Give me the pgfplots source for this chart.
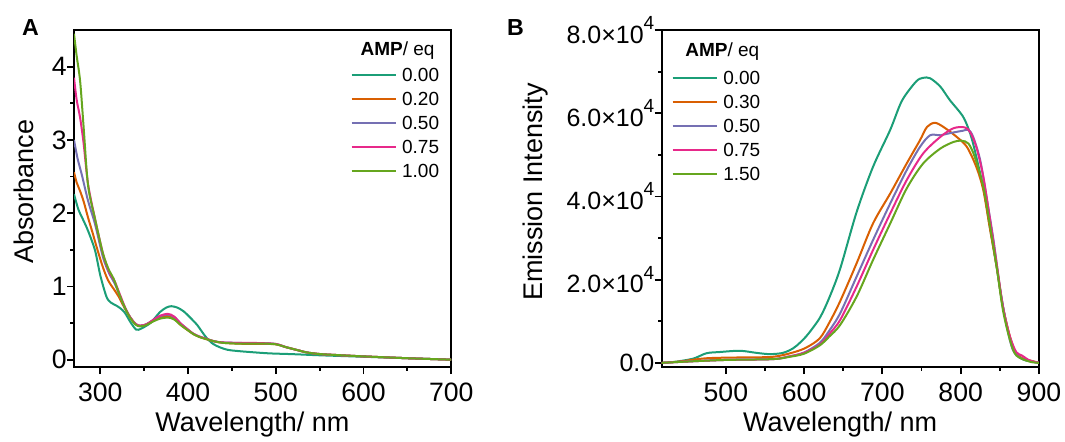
\documentclass[border=0pt]{standalone}
\usepackage{fontspec}
\setmainfont{Liberation Sans}
\usepackage{pgfplots}
\pgfplotsset{compat=1.18}

% Dark2-like series colours
\definecolor{cA}{HTML}{1B9E77}
\definecolor{cB}{HTML}{D95F02}
\definecolor{cC}{HTML}{7570B3}
\definecolor{cD}{HTML}{E7298A}
\definecolor{cE}{HTML}{66A61E}

\pgfplotsset{
  panel/.style={
    scale only axis, width=188.6pt, height=168.5pt, anchor=south west,
    axis line style={line width=1pt},
    tick align=outside, tick pos=left,
    major tick length=3.5pt, minor tick length=1.8pt,
    every tick/.style={black, line width=0.9pt},
    minor x tick num=1, minor y tick num=1,
    /pgf/number format/assume math mode=true,
    tick label style={font=\fontsize{13.3}{14}\selectfont},
    yticklabel style={inner xsep=0pt},
    xticklabel style={yshift=-1.1pt},
    label style={font=\fontsize{13.5}{15}\selectfont},
    xlabel style={at={(axis description cs:0.473,0)}, anchor=base, yshift=-32.3pt},
    no markers,
    every axis plot/.append style={line width=1pt, smooth},
    legend cell align=left,
    legend style={draw=none, fill=none, inner sep=0pt, row sep=0pt, column sep=2.8pt,
      font=\fontsize{9.5}{11}\selectfont,
      nodes={inner sep=0pt, text height=9pt, text depth=3pt}},
    legend image code/.code={\draw[#1] (0pt,0pt) -- (22pt,0pt);},
  }
}

\begin{document}
\begin{tikzpicture}
\path[use as bounding box] (0,0) rectangle (532.5pt,220.5pt);

\node[anchor=base west, font=\fontsize{11.6}{12}\selectfont\bfseries] at (7.5pt,203pt) {A};
\node[anchor=base west, font=\fontsize{11.6}{12}\selectfont\bfseries] at (250pt,203pt) {B};

% ---------------- A: absorbance ----------------
\begin{axis}[panel, at={(37pt,37pt)},
    xmin=270, xmax=700, ymin=-0.1, ymax=4.5,
    xtick={300,400,500,600,700}, ytick={0,1,2,3,4},
    xlabel={Wavelength/ nm}, ylabel={Absorbance},
    ylabel style={at={(axis description cs:-0.108,0.52)}, anchor=base},
    legend style={at={(axis description cs:0.732,0.902)}, anchor=north west},
]
\addplot[cA] coordinates {
(270,2.26)(275,2.05)(280,1.92)(286,1.76)(294,1.49)(300,1.15)(307,0.86)(312,0.78)
(318,0.74)(323,0.70)(328,0.64)(335,0.50)(341,0.41)(346,0.42)(352,0.46)(357,0.50)
(363,0.58)(368,0.65)(375,0.71)(381,0.73)(388,0.71)(395,0.66)(402,0.58)(410,0.48)
(416,0.38)(421,0.30)(428,0.22)(436,0.17)(445,0.135)(455,0.12)(470,0.105)(493,0.086)
(520,0.075)(550,0.06)(600,0.04)(650,0.02)(700,0.0)};
\addlegendentry{0.00}
\addplot[cB] coordinates {
(270,2.56)(273,2.42)(277,2.30)(281,2.16)(286,1.94)(291,1.74)(296,1.53)(303,1.26)
(309,1.08)(315,0.97)(321,0.86)(327,0.72)(334,0.58)(340,0.49)(345,0.46)(352,0.48)
(360,0.53)(368,0.58)(376,0.60)(383,0.58)(391,0.48)(400,0.40)(406,0.35)(413,0.31)
(421,0.28)(430,0.25)(440,0.23)(455,0.22)(470,0.215)(485,0.215)(500,0.21)(512,0.17)
(525,0.13)(535,0.10)(550,0.077)(575,0.06)(600,0.045)(650,0.02)(700,0.0)};
\addlegendentry{0.20}
\addplot[cC] coordinates {
(270,3.00)(274,2.75)(279,2.52)(286,2.17)(294,1.85)(303,1.40)(310,1.18)(316,1.05)
(322,0.88)(328,0.71)(334,0.58)(340,0.49)(345,0.465)(352,0.48)(360,0.54)(368,0.595)
(377,0.615)(384,0.585)(392,0.49)(400,0.41)(406,0.355)(413,0.315)(421,0.285)(430,0.25)
(440,0.235)(455,0.23)(470,0.225)(485,0.225)(500,0.215)(512,0.17)(525,0.13)(535,0.10)
(550,0.077)(575,0.06)(600,0.045)(650,0.02)(700,0.0)};
\addlegendentry{0.50}
\addplot[cD] coordinates {
(270,3.85)(273,3.55)(277,3.30)(281,2.95)(286,2.40)(294,1.92)(303,1.45)(310,1.20)
(316,1.08)(322,0.90)(328,0.72)(334,0.58)(340,0.49)(345,0.465)(352,0.48)(360,0.54)
(368,0.60)(377,0.625)(384,0.59)(392,0.49)(400,0.41)(406,0.355)(413,0.315)(421,0.285)
(430,0.25)(440,0.235)(455,0.23)(470,0.23)(485,0.225)(500,0.215)(512,0.17)(525,0.13)
(535,0.10)(550,0.077)(575,0.06)(600,0.045)(650,0.02)(700,0.0)};
\addlegendentry{0.75}
\addplot[cE] coordinates {
(270,4.45)(273,4.15)(277,3.80)(281,3.17)(286,2.38)(294,1.92)(303,1.45)(310,1.22)
(315,1.11)(322,0.88)(328,0.71)(334,0.57)(340,0.48)(345,0.455)(352,0.47)(360,0.52)
(368,0.56)(377,0.575)(384,0.55)(392,0.47)(400,0.40)(406,0.35)(413,0.31)(421,0.28)
(430,0.25)(440,0.23)(455,0.22)(470,0.22)(485,0.22)(500,0.21)(512,0.17)(525,0.13)
(535,0.10)(550,0.077)(575,0.06)(600,0.045)(650,0.02)(700,0.0)};
\addlegendentry{1.00}
\node[anchor=base west, font=\fontsize{9.5}{11}\selectfont] at (axis description cs:0.741,0.9258) {\textbf{AMP}/ eq};
\end{axis}

% ---------------- B: emission ----------------
\begin{axis}[panel, at={(330.85pt,37pt)},
    xmin=418, xmax=900, ymin=-1000, ymax=80000,
    xtick={500,600,700,800,900},
    ytick={0,20000,40000,60000,80000},
    scaled y ticks=false,
    yticklabels={0.0,
      2.0×10\raisebox{0.55em}{\fontsize{9.5}{10}\selectfont 4},
      4.0×10\raisebox{0.55em}{\fontsize{9.5}{10}\selectfont 4},
      6.0×10\raisebox{0.55em}{\fontsize{9.5}{10}\selectfont 4},
      8.0×10\raisebox{0.55em}{\fontsize{9.5}{10}\selectfont 4}},
    yticklabel style={font=\fontsize{12.5}{13}\selectfont},
    xlabel={Wavelength/ nm}, ylabel={Emission Intensity},
    ylabel style={at={(axis description cs:-0.3155,0.52)}, anchor=base},
    legend style={at={(axis description cs:0.0254,0.894)}, anchor=north west},
]
\addplot[cA] coordinates {
(418,0)(433,200)(458,1000)(475,2300)(492,2600)(518,2900)(539,2400)(556,2100)
(573,2400)(586,3500)(595,4900)(605,6900)(620,10800)(632,15600)(646,22600)
(667,36200)(688,47100)(710,56000)(725,63000)(743,67600)(752,68500)(761,68400)
(774,66400)(786,63200)(803,59200)(812,55200)(818,51100)(829,42000)(837,33000)
(846,23000)(854,13500)(863,6000)(871,2200)(880,800)(888,400)(900,0)};
\addlegendentry{0.00}
\addplot[cB] coordinates {
(418,0)(440,300)(475,1100)(518,1300)(560,1450)(586,2500)(603,3700)(620,5900)
(632,9600)(646,14800)(667,23900)(688,33500)(710,40700)(731,47900)(748,53500)
(757,56700)(767,57700)(778,56700)(795,54300)(808,51900)(820,47100)(829,41500)
(837,32700)(846,23100)(854,13500)(863,6300)(871,2300)(880,1000)(888,600)(900,0)};
\addlegendentry{0.30}
\addplot[cC] coordinates {
(418,0)(460,400)(500,700)(560,900)(580,1500)(600,2500)(620,4800)(632,7700)
(646,11900)(667,20700)(688,29500)(710,38300)(731,46300)(748,51900)(761,54700)
(774,54700)(786,55200)(803,55800)(810,56000)(816,54300)(825,48700)(833,39900)
(842,29500)(850,18300)(859,8700)(867,3000)(878,1000)(890,400)(900,0)};
\addlegendentry{0.50}
\addplot[cD] coordinates {
(418,0)(460,400)(500,700)(560,900)(580,1500)(600,2400)(620,4400)(632,6900)
(646,10300)(667,18300)(688,27100)(710,35900)(731,43900)(752,50300)(774,54300)
(791,56400)(805,56600)(812,55500)(820,51900)(829,44700)(837,35100)(846,23900)
(854,13500)(863,6300)(871,2600)(878,1800)(888,600)(900,0)};
\addlegendentry{0.75}
\addplot[cE] coordinates {
(418,0)(460,400)(500,700)(560,900)(580,1400)(600,2200)(620,4200)(632,6300)
(646,9100)(667,15900)(688,24700)(710,33500)(731,41900)(752,47900)(774,51500)
(791,53100)(801,53400)(810,52700)(818,49500)(829,42300)(837,33500)(846,23100)
(854,12700)(863,5500)(871,1800)(888,300)(900,0)};
\addlegendentry{1.50}
\node[anchor=base west, font=\fontsize{9.5}{11}\selectfont] at (axis description cs:0.044,0.9207) {\textbf{AMP}/ eq};
\end{axis}
\end{tikzpicture}
\end{document}
